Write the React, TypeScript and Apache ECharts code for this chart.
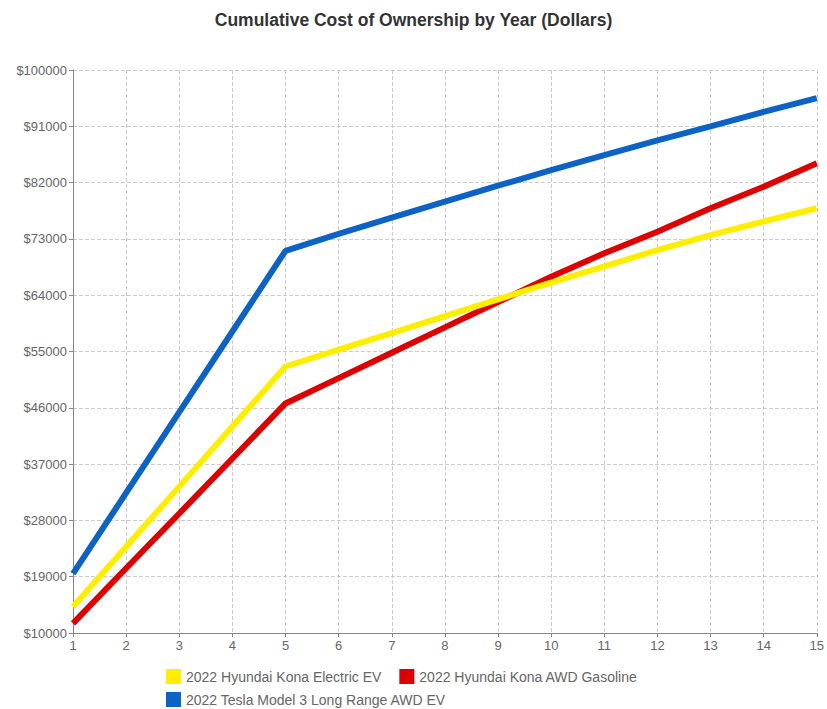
import React, { useEffect, useRef } from "react";
import * as echarts from "echarts";

const years = [1, 2, 3, 4, 5, 6, 7, 8, 9, 10, 11, 12, 13, 14, 15];
const konaEV = [14200, 23800, 33400, 43000, 52600, 55300, 57950, 60650, 63350, 66000, 68600, 71200, 73600, 75800, 77900];
const konaGas = [11550, 20350, 29100, 37900, 46700, 50750, 54800, 58850, 62900, 66950, 70700, 74150, 77900, 81350, 85100];
const tesla = [19500, 32400, 45300, 58200, 71100, 73800, 76400, 78950, 81500, 84000, 86400, 88750, 91000, 93300, 95500];
const yTicks = [10000, 19000, 28000, 37000, 46000, 55000, 64000, 73000, 82000, 91000, 100000];
const seriesNames = [
  "2022 Hyundai Kona Electric EV",
  "2022 Hyundai Kona AWD Gasoline",
  "2022 Tesla Model 3 Long Range AWD EV",
];
const colors = ["#FFEE00", "#DD0000", "#0D62C6"];

export default function App() {
  const ref = useRef<HTMLDivElement>(null);
  useEffect(() => {
    document.body.style.margin = "0";
    const chart = echarts.init(ref.current!, null, { renderer: "svg" });
    const font = "'Liberation Sans', Arial, sans-serif";
    const dataSets = [konaEV, konaGas, tesla];
    const legendBase = {
      left: 166,
      padding: 0,
      itemWidth: 15,
      itemHeight: 15,
      itemGap: 18,
      icon: "rect",
      orient: "horizontal",
      textStyle: { fontSize: 14, color: "#666", fontFamily: font },
    };
    chart.setOption({
      animation: false,
      backgroundColor: "#ffffff",
      textStyle: { fontFamily: font },
      title: {
        text: "Cumulative Cost of Ownership by Year (Dollars)",
        left: "center",
        top: 6,
        textStyle: { fontSize: 17.5, fontWeight: "bold", color: "#333", fontFamily: font },
      },
      legend: [
        { ...legendBase, top: 669, data: seriesNames.slice(0, 2) },
        { ...legendBase, top: 692, data: seriesNames.slice(2) },
      ],
      grid: { left: 73, right: 8, top: 70, bottom: 76, containLabel: false },
      xAxis: {
        type: "value",
        min: 1,
        max: 15,
        interval: 1,
        axisLine: { lineStyle: { color: "#888" } },
        axisTick: { show: true, length: 4, lineStyle: { color: "#888" } },
        axisLabel: { color: "#666", fontSize: 13, margin: 6, fontFamily: font },
        splitLine: { show: true, lineStyle: { color: "#ccc", type: "dashed" } },
      },
      yAxis: {
        type: "value",
        min: 10000,
        max: 100000,
        axisLine: { show: true, lineStyle: { color: "#888" } },
        axisTick: { show: true, length: 4, lineStyle: { color: "#888" }, customValues: yTicks },
        axisLabel: {
          color: "#666",
          fontSize: 13,
          margin: 6,
          fontFamily: font,
          customValues: yTicks,
          formatter: (v: number) => "$" + v,
        },
        splitLine: { show: true, lineStyle: { color: "#ccc", type: "dashed" } },
      },
      series: seriesNames.map((name, i) => ({
        name,
        type: "line",
        data: years.map((y, j) => [y, dataSets[i][j]]),
        showSymbol: false,
        symbol: "none",
        lineStyle: { width: 6, color: colors[i] },
        itemStyle: { color: colors[i] },
        z: i === 0 ? 3 : i === 1 ? 2 : 4,
      })),
    });
    return () => chart.dispose();
  }, []);
  return <div ref={ref} style={{ width: 827, height: 709 }} />;
}
